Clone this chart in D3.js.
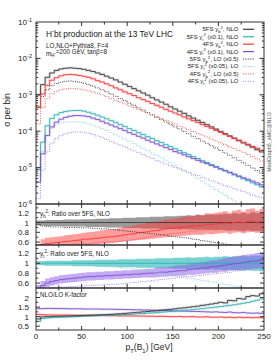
<!DOCTYPE html>
<html>
<head>
<meta charset="utf-8">
<script src="https://d3js.org/d3.v7.min.js"></script>
<style>
  body { margin: 0; background: #fff; }
  svg text { font-family: "Liberation Sans", Arial, sans-serif; fill: #222; }
</style>
</head>
<body>
<div id="chart"></div>
<script>
// bin lower edges of pT(B1) histogram, GeV (5 GeV bins)
var binEdges = [0, 5, 10, 15, 20, 25, 30, 35, 40, 45, 50, 55, 60, 65, 70, 75, 80, 85, 90, 95,
  100, 105, 110, 115, 120, 125, 130, 135, 140, 145, 150, 155, 160, 165, 170, 175, 180, 185, 190, 195,
  200, 205, 210, 215, 220, 225, 230, 235, 240, 245];
var binEnd = 250;

// main panel: log10(sigma per bin)
var logYb5Nlo = [-3.00, -2.72, -2.52, -2.40, -2.33, -2.29, -2.27, -2.26, -2.27, -2.28,
  -2.30, -2.33, -2.36, -2.40, -2.44, -2.49, -2.54, -2.59, -2.65, -2.71,
  -2.77, -2.83, -2.89, -2.95, -3.01, -3.08, -3.14, -3.20, -3.26, -3.33,
  -3.39, -3.45, -3.51, -3.58, -3.64, -3.70, -3.76, -3.82, -3.88, -3.94,
  -4.01, -4.07, -4.13, -4.19, -4.26, -4.32, -4.38, -4.44, -4.51, -4.57];
var logYt5Nlo = [-5.05, -4.30, -3.85, -3.65, -3.55, -3.49, -3.46, -3.44, -3.43, -3.43,
  -3.45, -3.48, -3.52, -3.56, -3.61, -3.66, -3.71, -3.76, -3.82, -3.87,
  -3.93, -3.98, -4.04, -4.09, -4.15, -4.20, -4.26, -4.31, -4.37, -4.42,
  -4.48, -4.53, -4.59, -4.64, -4.70, -4.75, -4.81, -4.86, -4.92, -4.97,
  -5.03, -5.08, -5.14, -5.20, -5.25, -5.31, -5.36, -5.42, -5.47, -5.53];
var logYb4Nlo = [-3.35, -2.98, -2.74, -2.60, -2.53, -2.48, -2.45, -2.44, -2.45, -2.47,
  -2.49, -2.52, -2.56, -2.61, -2.65, -2.70, -2.75, -2.81, -2.86, -2.92,
  -2.97, -3.02, -3.08, -3.13, -3.18, -3.24, -3.29, -3.34, -3.40, -3.45,
  -3.50, -3.55, -3.61, -3.66, -3.71, -3.76, -3.82, -3.87, -3.92, -3.98,
  -4.03, -4.09, -4.14, -4.20, -4.25, -4.31, -4.36, -4.42, -4.47, -4.53];
var logYt4Nlo = [-5.40, -4.62, -4.12, -3.88, -3.75, -3.67, -3.62, -3.59, -3.57, -3.57,
  -3.58, -3.60, -3.64, -3.68, -3.73, -3.78, -3.83, -3.88, -3.93, -3.98,
  -4.04, -4.09, -4.14, -4.19, -4.25, -4.30, -4.35, -4.40, -4.45, -4.50,
  -4.56, -4.60, -4.65, -4.70, -4.75, -4.80, -4.85, -4.89, -4.94, -4.99,
  -5.04, -5.09, -5.13, -5.18, -5.23, -5.28, -5.32, -5.37, -5.42, -5.47];
var logYb5Lo = [-3.32, -3.05, -2.86, -2.75, -2.69, -2.65, -2.63, -2.62, -2.63, -2.65,
  -2.68, -2.72, -2.76, -2.81, -2.86, -2.92, -2.98, -3.04, -3.10, -3.16,
  -3.23, -3.29, -3.36, -3.42, -3.49, -3.55, -3.62, -3.68, -3.75, -3.81,
  -3.88, -3.94, -4.01, -4.07, -4.14, -4.20, -4.27, -4.33, -4.40, -4.46,
  -4.53, -4.60, -4.66, -4.73, -4.80, -4.87, -4.94, -5.01, -5.08, -5.15];
var logYt5Lo = [-5.20, -4.55, -4.12, -3.92, -3.82, -3.77, -3.75, -3.74, -3.74, -3.74,
  -3.76, -3.79, -3.83, -3.88, -3.93, -3.98, -4.04, -4.10, -4.16, -4.22,
  -4.28, -4.34, -4.40, -4.47, -4.53, -4.60, -4.66, -4.73, -4.80, -4.87,
  -4.94, -5.01, -5.08, -5.15, -5.22, -5.30, -5.37, -5.45, -5.53, -5.60,
  -5.68, -5.76, -5.84, -5.92, -6.00, -6.08, -6.16, -6.24, -6.32, -6.40];
var logYb4Lo = [-3.80, -3.35, -3.10, -2.97, -2.90, -2.86, -2.84, -2.83, -2.83, -2.84,
  -2.86, -2.89, -2.92, -2.96, -3.00, -3.05, -3.10, -3.15, -3.20, -3.25,
  -3.30, -3.35, -3.40, -3.45, -3.50, -3.55, -3.60, -3.65, -3.70, -3.75,
  -3.80, -3.86, -3.91, -3.96, -4.01, -4.06, -4.11, -4.16, -4.22, -4.27,
  -4.32, -4.37, -4.43, -4.48, -4.53, -4.58, -4.64, -4.70, -4.76, -4.82];
var logYt4Lo = [-5.85, -5.07, -4.57, -4.33, -4.20, -4.12, -4.07, -4.04, -4.02, -4.02,
  -4.03, -4.05, -4.09, -4.13, -4.18, -4.23, -4.28, -4.33, -4.38, -4.43,
  -4.49, -4.54, -4.59, -4.64, -4.70, -4.75, -4.80, -4.85, -4.90, -4.95,
  -5.00, -5.04, -5.09, -5.13, -5.18, -5.22, -5.27, -5.31, -5.36, -5.40,
  -5.45, -5.49, -5.53, -5.58, -5.62, -5.66, -5.70, -5.75, -5.79, -5.83];

// ratio panel 1: y_b^2 over 5FS NLO
var yb5BandLo = [0.94, 0.94, 0.93, 0.93, 0.93, 0.93, 0.92, 0.92, 0.92, 0.92,
  0.92, 0.91, 0.91, 0.91, 0.91, 0.90, 0.90, 0.90, 0.90, 0.89,
  0.89, 0.89, 0.89, 0.88, 0.88, 0.88, 0.88, 0.87, 0.87, 0.87,
  0.87, 0.86, 0.87, 0.86, 0.86, 0.85, 0.86, 0.85, 0.85, 0.84,
  0.85, 0.84, 0.83, 0.84, 0.83, 0.82, 0.84, 0.82, 0.83, 0.82];
var yb5BandHi = [1.04, 1.04, 1.05, 1.05, 1.05, 1.05, 1.06, 1.06, 1.06, 1.06,
  1.07, 1.07, 1.07, 1.08, 1.08, 1.08, 1.09, 1.09, 1.09, 1.10,
  1.10, 1.10, 1.11, 1.11, 1.11, 1.12, 1.12, 1.12, 1.13, 1.13,
  1.13, 1.14, 1.14, 1.15, 1.14, 1.16, 1.15, 1.16, 1.17, 1.16,
  1.17, 1.18, 1.17, 1.19, 1.18, 1.20, 1.18, 1.21, 1.19, 1.20];
var yb4Ratio = [0.45, 0.55, 0.57, 0.58, 0.59, 0.60, 0.61, 0.62, 0.63, 0.64,
  0.66, 0.66, 0.67, 0.68, 0.69, 0.70, 0.71, 0.72, 0.73, 0.75,
  0.76, 0.77, 0.79, 0.80, 0.81, 0.83, 0.84, 0.85, 0.87, 0.88,
  0.89, 0.90, 0.91, 0.92, 0.93, 0.94, 0.94, 0.96, 0.96, 0.97,
  0.98, 0.99, 0.98, 1.00, 1.01, 1.00, 1.02, 1.03, 1.01, 1.03];
var yb4BandLo = [0.38, 0.45, 0.47, 0.48, 0.49, 0.50, 0.50, 0.51, 0.52, 0.53,
  0.54, 0.54, 0.55, 0.56, 0.57, 0.57, 0.58, 0.59, 0.60, 0.61,
  0.62, 0.63, 0.64, 0.65, 0.66, 0.67, 0.68, 0.69, 0.70, 0.71,
  0.72, 0.72, 0.73, 0.74, 0.75, 0.75, 0.75, 0.77, 0.76, 0.77,
  0.78, 0.79, 0.77, 0.79, 0.80, 0.78, 0.80, 0.81, 0.79, 0.81];
var yb4BandHi = [0.55, 0.66, 0.69, 0.70, 0.71, 0.72, 0.74, 0.75, 0.76, 0.77,
  0.79, 0.80, 0.81, 0.82, 0.84, 0.85, 0.86, 0.87, 0.89, 0.91,
  0.92, 0.94, 0.96, 0.97, 0.99, 1.01, 1.02, 1.04, 1.06, 1.07,
  1.09, 1.10, 1.12, 1.13, 1.14, 1.16, 1.15, 1.19, 1.18, 1.20,
  1.21, 1.23, 1.20, 1.24, 1.26, 1.22, 1.27, 1.29, 1.24, 1.28];
var yb5LoRatio = [0.96, 0.93, 0.92, 0.91, 0.91, 0.91, 0.90, 0.90, 0.90, 0.90,
  0.89, 0.89, 0.88, 0.88, 0.87, 0.87, 0.86, 0.85, 0.84, 0.83,
  0.82, 0.81, 0.80, 0.79, 0.78, 0.77, 0.76, 0.75, 0.74, 0.72,
  0.71, 0.70, 0.69, 0.68, 0.66, 0.65, 0.63, 0.62, 0.60, 0.59,
  0.58, 0.56, 0.55, 0.53, 0.52, 0.50, 0.49, 0.47, 0.46, 0.45];
var yb4LoRatio = [0.30, 0.45, 0.50, 0.52, 0.53, 0.54, 0.55, 0.55, 0.56, 0.56,
  0.57, 0.57, 0.58, 0.58, 0.59, 0.60, 0.60, 0.61, 0.62, 0.63,
  0.64, 0.65, 0.67, 0.68, 0.70, 0.71, 0.73, 0.74, 0.76, 0.77,
  0.78, 0.79, 0.80, 0.81, 0.82, 0.83, 0.84, 0.85, 0.86, 0.87,
  0.87, 0.88, 0.89, 0.89, 0.90, 0.91, 0.91, 0.92, 0.92, 0.93];

// ratio panel 2: y_t^2 over 5FS NLO
var yt5BandLo = [0.96, 0.96, 0.95, 0.95, 0.95, 0.95, 0.95, 0.95, 0.94, 0.94,
  0.94, 0.94, 0.94, 0.93, 0.93, 0.93, 0.93, 0.93, 0.92, 0.92,
  0.92, 0.92, 0.91, 0.91, 0.91, 0.91, 0.90, 0.90, 0.90, 0.90,
  0.89, 0.89, 0.89, 0.88, 0.89, 0.88, 0.88, 0.87, 0.88, 0.87,
  0.87, 0.86, 0.87, 0.86, 0.86, 0.85, 0.86, 0.85, 0.85, 0.84];
var yt5BandHi = [1.04, 1.04, 1.05, 1.05, 1.05, 1.05, 1.05, 1.05, 1.06, 1.06,
  1.06, 1.06, 1.06, 1.07, 1.07, 1.07, 1.07, 1.07, 1.08, 1.08,
  1.08, 1.08, 1.09, 1.09, 1.09, 1.09, 1.10, 1.10, 1.10, 1.10,
  1.11, 1.11, 1.11, 1.12, 1.11, 1.12, 1.12, 1.13, 1.12, 1.13,
  1.13, 1.14, 1.13, 1.14, 1.14, 1.15, 1.14, 1.15, 1.15, 1.16];
var yt4Ratio = [0.48, 0.55, 0.60, 0.63, 0.65, 0.67, 0.68, 0.69, 0.70, 0.71,
  0.72, 0.73, 0.73, 0.74, 0.74, 0.75, 0.75, 0.76, 0.76, 0.77,
  0.77, 0.78, 0.78, 0.79, 0.80, 0.80, 0.81, 0.82, 0.82, 0.83,
  0.84, 0.85, 0.85, 0.87, 0.88, 0.89, 0.90, 0.91, 0.93, 0.93,
  0.95, 0.96, 0.98, 0.99, 1.00, 1.02, 1.03, 1.04, 1.05, 1.07];
var yt4BandLo = [0.40, 0.47, 0.52, 0.55, 0.57, 0.59, 0.60, 0.61, 0.62, 0.63,
  0.64, 0.65, 0.65, 0.66, 0.66, 0.67, 0.67, 0.68, 0.68, 0.69,
  0.69, 0.70, 0.70, 0.71, 0.71, 0.71, 0.72, 0.73, 0.73, 0.74,
  0.74, 0.75, 0.75, 0.77, 0.77, 0.78, 0.79, 0.80, 0.81, 0.81,
  0.83, 0.83, 0.85, 0.86, 0.86, 0.88, 0.88, 0.89, 0.90, 0.91];
var yt4BandHi = [0.56, 0.64, 0.69, 0.72, 0.74, 0.76, 0.77, 0.78, 0.79, 0.80,
  0.81, 0.82, 0.82, 0.83, 0.83, 0.84, 0.84, 0.85, 0.85, 0.86,
  0.86, 0.87, 0.87, 0.88, 0.89, 0.89, 0.91, 0.92, 0.92, 0.93,
  0.95, 0.96, 0.96, 0.98, 1.00, 1.01, 1.02, 1.03, 1.06, 1.06,
  1.08, 1.10, 1.12, 1.13, 1.15, 1.17, 1.18, 1.19, 1.21, 1.23];
var yt5LoRatio = [1.00, 1.00, 1.00, 0.99, 0.99, 0.99, 0.98, 0.98, 0.97, 0.97,
  0.96, 0.96, 0.95, 0.95, 0.94, 0.93, 0.93, 0.92, 0.91, 0.90,
  0.90, 0.89, 0.87, 0.86, 0.84, 0.83, 0.81, 0.80, 0.78, 0.77,
  0.75, 0.73, 0.72, 0.70, 0.69, 0.67, 0.65, 0.64, 0.62, 0.61,
  0.59, 0.57, 0.56, 0.54, 0.53, 0.51, 0.50, 0.48, 0.47, 0.45];
var yt4LoRatio = [0.40, 0.46, 0.49, 0.50, 0.51, 0.52, 0.52, 0.53, 0.53, 0.54,
  0.54, 0.55, 0.55, 0.56, 0.56, 0.57, 0.57, 0.58, 0.58, 0.59,
  0.60, 0.61, 0.62, 0.63, 0.64, 0.65, 0.66, 0.67, 0.68, 0.69,
  0.70, 0.71, 0.72, 0.73, 0.74, 0.75, 0.76, 0.77, 0.78, 0.79,
  0.80, 0.81, 0.82, 0.84, 0.85, 0.86, 0.87, 0.89, 0.90, 0.91];

// ratio panel 3: NLO/LO K-factors
var kYb5 = [0.88, 0.99, 1.00, 1.01, 1.02, 1.02, 1.03, 1.03, 1.04, 1.05,
  1.06, 1.07, 1.08, 1.09, 1.10, 1.11, 1.12, 1.14, 1.15, 1.17,
  1.19, 1.21, 1.23, 1.25, 1.27, 1.29, 1.31, 1.34, 1.36, 1.38,
  1.41, 1.44, 1.46, 1.49, 1.52, 1.55, 1.59, 1.62, 1.66, 1.70,
  1.75, 1.72, 1.85, 1.83, 1.95, 1.92, 2.05, 2.10, 2.08, 2.20];
var kYt5 = [0.75, 0.90, 0.93, 0.95, 0.96, 0.97, 0.98, 0.99, 1.00, 1.01,
  1.02, 1.03, 1.04, 1.05, 1.06, 1.07, 1.08, 1.09, 1.10, 1.11,
  1.12, 1.13, 1.15, 1.16, 1.18, 1.19, 1.21, 1.23, 1.25, 1.27,
  1.29, 1.31, 1.33, 1.35, 1.37, 1.40, 1.42, 1.45, 1.47, 1.50,
  1.53, 1.56, 1.59, 1.62, 1.66, 1.70, 1.74, 1.80, 1.86, 1.92];
var kYt4 = [1.42, 1.42, 1.43, 1.43, 1.42, 1.42, 1.42, 1.41, 1.41, 1.41,
  1.40, 1.40, 1.40, 1.40, 1.39, 1.39, 1.39, 1.38, 1.38, 1.37,
  1.37, 1.36, 1.36, 1.35, 1.35, 1.34, 1.33, 1.33, 1.32, 1.31,
  1.30, 1.30, 1.29, 1.28, 1.27, 1.27, 1.26, 1.25, 1.24, 1.25,
  1.23, 1.22, 1.24, 1.21, 1.20, 1.22, 1.19, 1.18, 1.19, 1.17];
var kYb4 = [1.12, 1.10, 1.09, 1.09, 1.08, 1.08, 1.08, 1.08, 1.07, 1.07,
  1.07, 1.07, 1.06, 1.06, 1.06, 1.05, 1.05, 1.05, 1.04, 1.04,
  1.04, 1.03, 1.03, 1.03, 1.02, 1.02, 1.01, 1.02, 1.01, 1.00,
  1.00, 1.01, 0.99, 0.99, 1.00, 0.98, 0.98, 0.99, 0.97, 0.97,
  0.98, 0.96, 0.97, 0.95, 0.97, 0.95, 0.96, 0.94, 0.96, 0.94];

var xTickLabels = [0, 50, 100, 150, 200, 250];
var mainDecades = [-6, -5, -4, -3, -2, -1];
var ratioTicks = [0.6, 0.8, 1, 1.2];
var kTicks = [0.5, 1, 1.5, 2];

// colours
var cBlack = "#3a3a3a", cTeal = "#2fb3b3", cRed = "#ff3434", cPurple = "#7a4fd6";
var cBlackDot = "#333333", cTealDot = "#7fd2d2", cRedDot = "#ff5555", cPurpleDot = "#a680ee";

// Set width, height, panels
var svgWidth = 277;
var svgHeight = 360;
var xLeft = 36, xRight = 264;

var svg = d3.select("#chart")
  .append("svg")
  .attr("width", svgWidth)
  .attr("height", svgHeight);

var x = d3.scaleLinear().domain([0, 250]).range([xLeft, xRight]);

var yMain = d3.scaleLog().domain([1e-6, 1e-1]).range([204, 22]);
var yR1 = d3.scaleLinear().domain([0.54, 1.38]).range([245, 204]);
var yR2 = d3.scaleLinear().domain([0.5, 1.37]).range([288, 245]);
var yR3 = d3.scaleLinear().domain([0.3, 2.5]).range([330, 288]);

// step points for a histogram
function stepPoints(values) {
  var pts = values.map(function(v, i) { return [binEdges[i], v]; });
  pts.push([binEnd, values[values.length - 1]]);
  return pts;
}

function stepLine(yScale) {
  return d3.line()
    .x(d => x(d[0]))
    .y(d => yScale(d[1]))
    .curve(d3.curveStepAfter);
}

function stepBand(yScale) {
  return d3.area()
    .x(d => x(d[0]))
    .y0(d => yScale(d[1]))
    .y1(d => yScale(d[2]))
    .curve(d3.curveStepAfter);
}

function bandPoints(lo, hi) {
  var pts = lo.map(function(v, i) { return [binEdges[i], v, hi[i]]; });
  pts.push([binEnd, lo[lo.length - 1], hi[hi.length - 1]]);
  return pts;
}

// clipped group for each panel
function panelGroup(id, yScale) {
  var r = yScale.range();
  svg.append("clipPath").attr("id", id)
    .append("rect")
    .attr("x", xLeft).attr("y", r[1])
    .attr("width", xRight - xLeft).attr("height", r[0] - r[1]);
  return svg.append("g").attr("clip-path", "url(#" + id + ")");
}

function drawLine(g, yScale, values, color, dotted, halo) {
  if (halo) {
    g.append("path")
      .attr("d", stepLine(yScale)(stepPoints(values)))
      .attr("fill", "none")
      .attr("stroke", color)
      .attr("stroke-opacity", 0.16)
      .attr("stroke-width", 2.6);
  }
  g.append("path")
    .attr("d", stepLine(yScale)(stepPoints(values)))
    .attr("fill", "none")
    .attr("stroke", color)
    .attr("stroke-width", dotted ? 0.9 : 0.9)
    .attr("stroke-dasharray", dotted ? "1.1,1.3" : null);
}

function drawBand(g, yScale, lo, hi, color, opacity) {
  g.append("path")
    .attr("d", stepBand(yScale)(bandPoints(lo, hi)))
    .attr("fill", color)
    .attr("fill-opacity", opacity)
    .attr("stroke", "none");
}

// text with sub/superscripts: parts = [[text, "sub"|"sup"|null], ...]
function richText(textSel, parts, size) {
  var shift = 0;
  parts.forEach(function(p) {
    var target = p[1] === "sub" ? size * 0.3 : p[1] === "sup" ? -size * 0.4 : 0;
    textSel.append("tspan")
      .attr("dy", target - shift)
      .attr("font-size", p[1] ? size * 0.7 : size)
      .text(p[0]);
    shift = target;
  });
  return textSel;
}

var log10 = v => Math.pow(10, v);

// ---------- main panel ----------
var gMain = panelGroup("clipMain", yMain);
var mainLine = function(vals, color, dotted, halo) {
  drawLine(gMain, yMain, vals.map(log10), color, dotted, halo);
};
mainLine(logYt5Lo, cTealDot, true);
mainLine(logYt4Lo, cPurpleDot, true);
mainLine(logYb5Lo, cBlackDot, true);
mainLine(logYb4Lo, cRedDot, true);
mainLine(logYt5Nlo, cTeal, false, true);
mainLine(logYt4Nlo, cPurple, false, true);
mainLine(logYb5Nlo, cBlack, false, true);
mainLine(logYb4Nlo, cRed, false, true);

// ---------- ratio panel 1 ----------
var g1 = panelGroup("clipR1", yR1);
drawBand(g1, yR1, yb5BandLo, yb5BandHi, "#7a7a7a", 0.75);
drawBand(g1, yR1, yb4BandLo, yb4BandHi, "#ff3c3c", 0.5);
drawLine(g1, yR1, yb5BandLo.map(() => 1), cBlack, false);
drawLine(g1, yR1, yb4Ratio, cRed, false);
drawLine(g1, yR1, yb5LoRatio, cBlackDot, true);
drawLine(g1, yR1, yb4LoRatio, cRedDot, true);

// ---------- ratio panel 2 ----------
var g2 = panelGroup("clipR2", yR2);
drawBand(g2, yR2, yt5BandLo, yt5BandHi, "#2fb8b8", 0.65);
drawBand(g2, yR2, yt4BandLo, yt4BandHi, "#8a55e6", 0.5);
drawLine(g2, yR2, yt5BandLo.map(() => 1), cTeal, false);
drawLine(g2, yR2, yt4Ratio, cPurple, false);
drawLine(g2, yR2, yt5LoRatio, cTealDot, true);
drawLine(g2, yR2, yt4LoRatio, cPurpleDot, true);

// ---------- ratio panel 3 ----------
var g3 = panelGroup("clipR3", yR3);
drawLine(g3, yR3, kYt4, cPurple, false, true);
drawLine(g3, yR3, kYb4, cRed, false, true);
drawLine(g3, yR3, kYt5, cTeal, false, true);
drawLine(g3, yR3, kYb5, cBlack, false, true);

// ---------- frames and ticks ----------
var axisColor = "#333";
var frames = svg.append("g");
[yMain, yR1, yR2, yR3].forEach(function(ys) {
  var r = ys.range();
  frames.append("rect")
    .attr("x", xLeft).attr("y", r[1])
    .attr("width", xRight - xLeft).attr("height", r[0] - r[1])
    .attr("fill", "none").attr("stroke", axisColor).attr("stroke-width", 1);

  // x ticks every 25 GeV, top and bottom, inward
  d3.range(25, 250, 25).forEach(function(t) {
    var len = t % 50 === 0 ? 4 : 2.5;
    frames.append("line").attr("x1", x(t)).attr("x2", x(t))
      .attr("y1", r[0]).attr("y2", r[0] - len).attr("stroke", axisColor);
    frames.append("line").attr("x1", x(t)).attr("x2", x(t))
      .attr("y1", r[1]).attr("y2", r[1] + len).attr("stroke", axisColor);
  });
});

function yTick(yPos, len) {
  frames.append("line").attr("x1", xLeft).attr("x2", xLeft + len)
    .attr("y1", yPos).attr("y2", yPos).attr("stroke", axisColor);
  frames.append("line").attr("x1", xRight).attr("x2", xRight - len)
    .attr("y1", yPos).attr("y2", yPos).attr("stroke", axisColor);
}

// log ticks for main panel
mainDecades.forEach(function(e) {
  if (e > -6 && e < -1) yTick(yMain(log10(e)), 4.5);
  if (e < -1) {
    [2, 3, 4, 5, 6, 7, 8, 9].forEach(function(m) {
      yTick(yMain(m * log10(e)), 2.2);
    });
  }
});
[0.6, 0.7, 0.8, 0.9, 1, 1.1, 1.2, 1.3].forEach(function(t) {
  var major = ratioTicks.indexOf(t) >= 0;
  yTick(yR1(t), major ? 4 : 2.2);
  yTick(yR2(t), major ? 4 : 2.2);
});
[0.5, 0.75, 1, 1.25, 1.5, 1.75, 2, 2.25].forEach(function(t) {
  yTick(yR3(t), kTicks.indexOf(t) >= 0 ? 4 : 2.2);
});

// ---------- tick labels ----------
var labels = svg.append("g");
mainDecades.forEach(function(e) {
  var t = labels.append("text")
    .attr("x", 32).attr("y", yMain(log10(e)) + 3)
    .attr("text-anchor", "end");
  richText(t, [["10", null], [String(e), "sup"]], 8);
});
ratioTicks.forEach(function(t) {
  labels.append("text").attr("x", 29).attr("y", yR1(t) + 3)
    .attr("text-anchor", "end").attr("font-size", 8).text(String(t));
  labels.append("text").attr("x", 29).attr("y", yR2(t) + 3)
    .attr("text-anchor", "end").attr("font-size", 8).text(String(t));
});
kTicks.forEach(function(t) {
  labels.append("text").attr("x", 29).attr("y", yR3(t) + 3)
    .attr("text-anchor", "end").attr("font-size", 8).text(String(t));
});
xTickLabels.forEach(function(t) {
  labels.append("text").attr("x", x(t)).attr("y", 339)
    .attr("text-anchor", "middle").attr("font-size", 8).text(String(t));
});

// axis titles
richText(labels.append("text").attr("x", 149).attr("y", 350).attr("text-anchor", "middle"),
  [["p", null], ["T", "sub"], ["(B", null], ["1", "sub"], [") [GeV]", null]], 8.5);
labels.append("text")
  .attr("transform", "translate(10,110) rotate(-90)")
  .attr("text-anchor", "middle").attr("font-size", 8.5)
  .text("σ per bin");
labels.append("text")
  .attr("transform", "translate(271,142) rotate(-90)")
  .attr("text-anchor", "middle").attr("font-size", 5.4)
  .style("fill", "#555")
  .text("MadGraph5_aMC@NLO");

// titles inside main panel
richText(labels.append("text").attr("x", 46).attr("y", 36.5),
  [["H", null], ["-", "sup"], ["bt production at the 13 TeV LHC", null]], 8.4);
labels.append("text").attr("x", 46).attr("y", 47.5).attr("font-size", 6.3)
  .text("LO,NLO+Pythia8, F=4");
richText(labels.append("text").attr("x", 46).attr("y", 55.5),
  [["m", null], ["H", "sub"], ["-", null], ["=200 GeV, tanβ=8", null]], 6.3)
  .selectAll("tspan").filter((d, i) => i === 2)
  .attr("dy", -3.8).attr("font-size", 4.4);

// ratio panel titles
richText(labels.append("text").attr("x", 40).attr("y", 216),
  [["y", null], ["b", "sub"], ["2", "sup"], [": Ratio over 5FS, NLO", null]], 6.3);
richText(labels.append("text").attr("x", 40).attr("y", 256),
  [["y", null], ["t", "sub"], ["2", "sup"], [": Ratio over 5FS, NLO", null]], 6.3);
labels.append("text").attr("x", 40).attr("y", 297).attr("font-size", 6.3)
  .text("NLO/LO K-factor");

// ---------- legend ----------
var legendItems = [
  [[["5FS y", null], ["b", "sub"], ["2", "sup"], [", NLO", null]], cBlack, false],
  [[["5FS y", null], ["t", "sub"], ["2", "sup"], [" (x0.1), NLO", null]], cTeal, false],
  [[["4FS y", null], ["b", "sub"], ["2", "sup"], [", NLO", null]], cRed, false],
  [[["4FS y", null], ["t", "sub"], ["2", "sup"], [" (x0.1), NLO", null]], cPurple, false],
  [[["5FS y", null], ["b", "sub"], ["2", "sup"], [", LO (x0.5)", null]], cBlackDot, true],
  [[["5FS y", null], ["t", "sub"], ["2", "sup"], [" (x0.05), LO", null]], cTealDot, true],
  [[["4FS y", null], ["b", "sub"], ["2", "sup"], [", LO (x0.5)", null]], cRedDot, true],
  [[["4FS y", null], ["t", "sub"], ["2", "sup"], [" (x0.05), LO", null]], cPurpleDot, true]
];
var legend = svg.append("g");
legendItems.forEach(function(item, i) {
  var yy = 29.3 + i * 7.43;
  richText(legend.append("text").attr("x", 238.5).attr("y", yy + 2)
    .attr("text-anchor", "end"), item[0], 6);
  legend.append("line")
    .attr("x1", 243).attr("x2", 254).attr("y1", yy).attr("y2", yy)
    .attr("stroke", item[1]).attr("stroke-width", item[2] ? 1 : 1.2)
    .attr("stroke-dasharray", item[2] ? "1.1,1.3" : null);
});
</script>
</body>
</html>
